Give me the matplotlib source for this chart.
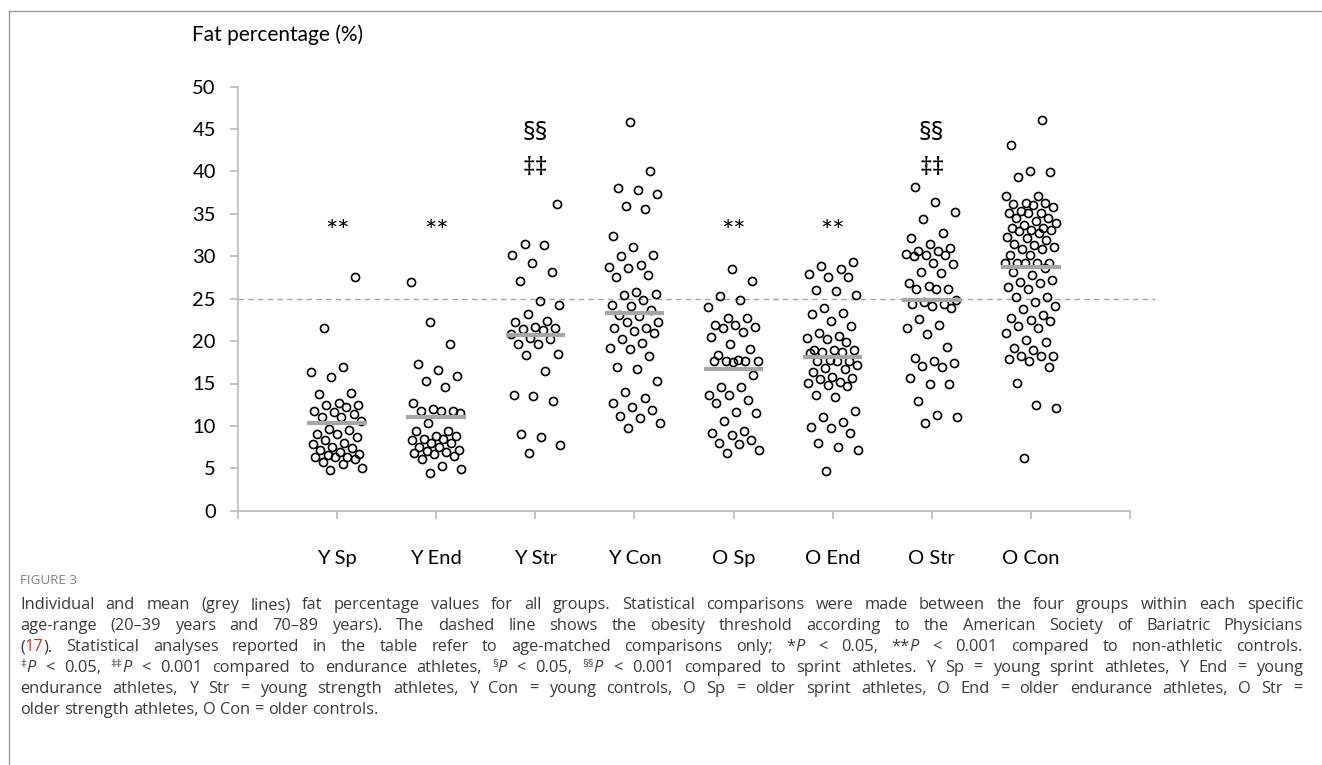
import re
import numpy as np
import matplotlib
matplotlib.use('Agg')
import matplotlib.pyplot as plt
from matplotlib.lines import Line2D

# ---------------- data ----------------
groups = ['Y Sp', 'Y End', 'Y Str', 'Y Con', 'O Sp', 'O End', 'O Str', 'O Con']

y_sp = [27.6, 21.6, 16.9, 16.3, 15.8, 13.9, 13.8, 12.7, 12.5, 12.2, 12.5, 11.8, 11.4, 11.6,
        11.0, 11.1, 10.6, 9.6, 9.5, 9.1, 9.0, 8.7, 8.3, 8.0, 7.9, 7.5, 7.4, 7.2, 6.9, 6.7,
        6.6, 6.3, 6.3, 6.3, 6.1, 5.7, 5.5, 5.0, 4.8]
y_end = [27.0, 22.2, 19.7, 17.3, 16.6, 15.9, 15.3, 14.6, 12.7, 12.0, 11.7, 11.8, 11.7, 11.5,
         10.3, 9.4, 9.4, 8.8, 8.8, 8.5, 8.5, 8.3, 8.0, 8.0, 7.5, 7.5, 7.2, 7.0, 6.9, 6.8,
         6.7, 6.5, 6.1, 5.3, 4.9, 4.4]
y_str = [36.2, 31.5, 31.3, 30.2, 29.2, 28.2, 27.1, 24.7, 24.2, 23.2, 22.4, 22.2, 21.7, 21.5,
         21.4, 21.3, 20.8, 20.4, 20.2, 19.7, 19.6, 18.5, 18.4, 16.5, 13.6, 13.5, 12.9, 9.1,
         8.7, 7.7, 6.8]
y_con = [45.8, 40.1, 38.0, 37.8, 37.3, 35.9, 35.6, 32.4, 31.1, 30.2, 30.0, 29.0, 28.6, 28.7,
         27.8, 27.6, 25.8, 25.6, 25.4, 24.8, 24.3, 24.1, 23.7, 23.1, 23.0, 22.3, 22.2, 21.6,
         21.5, 21.2, 20.9, 20.3, 19.8, 19.2, 19.1, 18.2, 17.0, 16.7, 15.3, 14.0, 13.3, 12.7,
         12.2, 11.9, 11.2, 10.9, 10.3, 9.7]
o_sp = [28.5, 27.1, 25.3, 24.8, 24.0, 22.7, 22.7, 21.9, 21.9, 21.7, 21.5, 21.1, 20.5, 19.7,
        19.1, 18.4, 17.8, 17.7, 17.7, 17.7, 17.6, 17.5, 16.0, 14.6, 14.6, 13.6, 13.6, 13.1,
        12.7, 11.6, 11.5, 10.6, 9.4, 9.2, 8.9, 8.3, 8.0, 7.9, 7.1, 6.8]
o_end = [29.3, 28.9, 28.5, 27.9, 27.6, 27.6, 26.0, 25.9, 25.4, 23.9, 23.3, 23.2, 22.4, 21.8,
         20.9, 20.6, 20.4, 20.2, 19.9, 19.0, 18.95, 18.9, 18.75, 18.7, 18.6, 17.8, 17.7,
         17.65, 17.6, 17.2, 16.8, 16.7, 16.3, 15.8, 15.7, 15.5, 15.2, 15.1, 14.8, 14.7, 13.6,
         13.4, 11.7, 11.1, 10.5, 9.9, 9.8, 9.2, 8.0, 7.5, 7.2, 4.7]
o_str = [38.2, 36.4, 35.2, 34.4, 32.8, 32.1, 31.4, 31.0, 30.6, 30.6, 30.3, 30.1, 30.1, 30.0,
         29.2, 29.1, 28.1, 28.0, 26.8, 26.5, 26.2, 26.2, 26.2, 24.9, 24.6, 24.4, 24.4, 24.1,
         23.9, 22.6, 21.9, 21.6, 20.8, 19.3, 18.0, 17.6, 17.4, 17.1, 16.9, 15.6, 14.9, 14.9,
         12.9, 11.3, 11.0, 10.4]
o_con = [46.1, 43.1, 40.1, 39.9, 39.4, 37.1, 37.1, 36.3, 36.3, 36.2, 36.05, 35.8, 35.3, 35.1,
         35.1, 35.1, 34.5, 34.5, 34.2, 33.9, 33.7, 33.3, 33.3, 33.1, 33.1, 33.0, 32.7, 32.3,
         32.1, 31.9, 31.5, 31.3, 31.1, 30.9, 30.9, 30.2, 30.2, 29.2, 29.2, 29.2, 29.2, 29.2,
         28.6, 28.2, 27.8, 27.2, 27.0, 26.8, 26.4, 26.1, 25.2, 25.2, 24.6, 24.1, 23.8, 23.1,
         22.7, 22.5, 22.4, 21.8, 21.5, 21.0, 20.1, 19.9, 19.2, 19.0, 18.2, 18.2, 18.2, 17.9,
         17.6, 17.0, 15.1, 12.5, 12.1, 6.2]

means = [10.3, 11.1, 20.7, 23.3, 16.7, 18.1, 24.8, 28.7]
obesity_threshold = 25

stars = ['**', '**', '', '', '**', '**', '', '']
daggers = ['', '', '‡‡', '', '', '', '‡‡', '']
sections = ['', '', '§§', '', '', '', '§§', '']

caption_head = 'FIGURE 3'
caption_lines = [
    "Individual and mean (grey lines) fat percentage values for all groups. Statistical comparisons were made between the four groups within each specific",
    "age-range (20–39 years and 70–89 years). The dashed line shows the obesity threshold according to the American Society of Bariatric Physicians",
    "({r:17}). Statistical analyses reported in the table refer to age-matched comparisons only; *{i:P} < 0.05, **{i:P} < 0.001 compared to non-athletic controls.",
    "{s:‡}{i:P} < 0.05, {s:‡‡}{i:P} < 0.001 compared to endurance athletes, {s:§}{i:P} < 0.05, {s:§§}{i:P} < 0.001 compared to sprint athletes. Y Sp = young sprint athletes, Y End = young",
    "endurance athletes, Y Str = young strength athletes, Y Con = young controls, O Sp = older sprint athletes, O End = older endurance athletes, O Str =",
    "older strength athletes, O Con = older controls.",
]

# ---------------- figure ----------------
W, H = 1322, 765
plt.rcParams['font.family'] = ['Lato', 'DejaVu Sans']
fig = plt.figure(figsize=(W / 100, H / 100), dpi=100)
ax = fig.add_axes([238 / W, 1 - 510.7 / H, (1130 - 238) / W, (510.7 - 86.7) / H])

all_vals = [y_sp, y_end, y_str, y_con, o_sp, o_end, o_str, o_con]
for i, vals in enumerate(all_vals):
    v = np.array(vals)
    order = np.argsort(v)
    offs = np.empty(len(v))
    # deterministic spread (golden ratio sequence) along the value order
    offs[order] = ((np.arange(len(v)) * 0.618034 + 0.37) % 1 - 0.5) * 0.52
    ax.plot(i + 1 + offs, v, 'o', ms=5.8, mfc='none', mec='black', mew=1.2, zorder=2)
    ax.plot([i + 0.7, i + 1.3], [means[i], means[i]], color='#a6a6a6', lw=3,
            solid_capstyle='butt', zorder=3)
    if stars[i]:
        ax.text(i + 1, 32.8, stars[i], ha='center', va='center', fontsize=21)
    if daggers[i]:
        ax.text(i + 1, 40.4, daggers[i], ha='center', va='center', fontsize=18,
                family=['Noto Sans', 'DejaVu Sans'])
    if sections[i]:
        ax.text(i + 1, 44.5, sections[i], ha='center', va='center', fontsize=18,
                family=['Noto Sans', 'DejaVu Sans'])

ax.plot([0, 9.25], [obesity_threshold, obesity_threshold], color='#a6a6a6', lw=1,
        dashes=(4, 3), zorder=1, clip_on=False)

ax.set_xlim(0, 9)
ax.set_ylim(0, 50)
ax.set_yticks(range(0, 51, 5))
ax.set_xticks(range(0, 10))
ax.set_xticklabels([''] + groups + [''])
for s in ['top', 'right']:
    ax.spines[s].set_visible(False)
for s in ['left', 'bottom']:
    ax.spines[s].set_color('#bfbfbf')
    ax.spines[s].set_linewidth(1.3)
ax.tick_params(axis='y', length=6, width=1.3, color='#bfbfbf', pad=10, labelsize=14.5)
ax.tick_params(axis='x', length=6, width=1.3, color='#bfbfbf', pad=22, labelsize=14.5)

fig.text(192 / W, 1 - 35 / H, 'Fat percentage (%)', fontsize=15, va='center', ha='left')

# border of the figure panel
fig.add_artist(Line2D([9 / W, 1], [1 - 11 / H, 1 - 11 / H], transform=fig.transFigure,
                      color='#9a9a9a', lw=1))
fig.add_artist(Line2D([9 / W, 9 / W], [1 - 11 / H, 0], transform=fig.transFigure,
                      color='#9a9a9a', lw=1))

# ---------------- caption ----------------
cap_font = ['Open Sans', 'DejaVu Sans']
cap_size = 11.8
cap_color = '#3a3a3a'
fig.text(20 / W, 1 - 581 / H, caption_head, fontsize=9.6, color='#808080', va='center',
         family=cap_font)

renderer = fig.canvas.get_renderer()


def width(t):
    return t.get_window_extent(renderer=renderer).width


probe1 = fig.text(0, 0, 'a a', fontsize=cap_size, family=cap_font)
probe2 = fig.text(0, 0, 'aa', fontsize=cap_size, family=cap_font)
space_w = width(probe1) - width(probe2)
probe1.remove()
probe2.remove()

left_px, right_px = 20, 1303
for k, line in enumerate(caption_lines):
    base = 604 + 21 * k + 5
    words = []
    for word in line.split(' '):
        arts = []
        for part in re.split(r'(\{[isr]:[^}]*\})', word):
            if not part:
                continue
            kind, txt = 'n', part
            if part.startswith('{'):
                kind, txt = part[1], part[3:-1]
            kw = dict(fontsize=cap_size, color=cap_color, va='baseline', family=cap_font)
            if kind == 'i':
                kw['style'] = 'italic'
            if kind == 'r':
                kw['color'] = '#c8342b'
            if kind == 's':
                kw['fontsize'] = cap_size * 0.7
            t = fig.text(0, 0, txt, **kw)
            arts.append((t, kind, width(t)))
        words.append(arts)
    total = sum(w for arts in words for _, _, w in arts)
    last = k == len(caption_lines) - 1
    gap = space_w if last else (right_px - left_px - total) / (len(words) - 1)
    x = left_px
    for arts in words:
        for t, kind, w in arts:
            yb = base - (5 if kind == 's' else 0)
            t.set_position((x / W, 1 - yb / H))
            x += w
        x += gap

fig.savefig('out.png', dpi=100)
